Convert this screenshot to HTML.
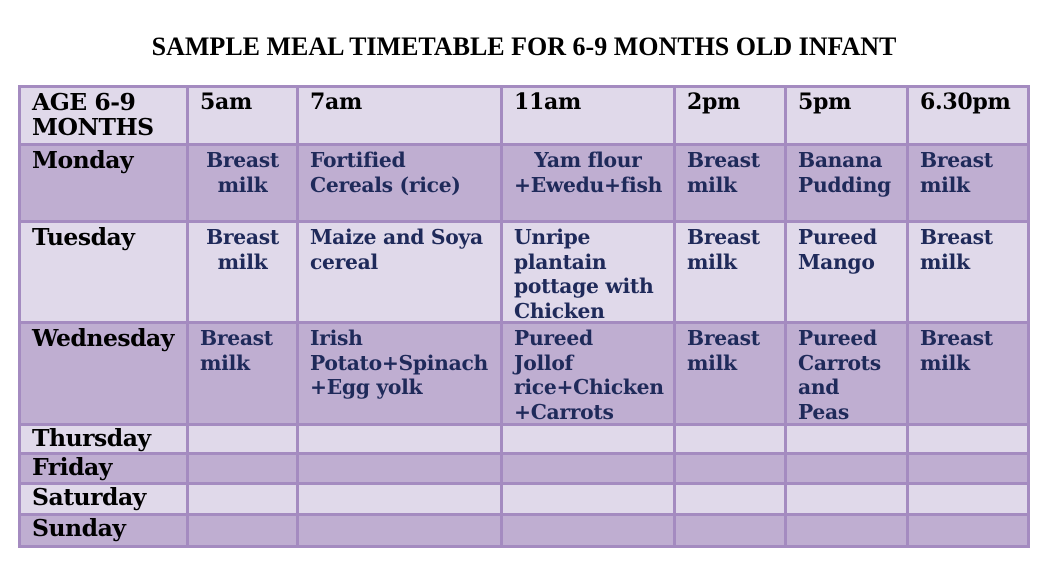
<!DOCTYPE html><html><head><style>
body{margin:0;width:1048px;height:564px;background:#fff;position:relative;font-family:"DejaVu Serif","Liberation Serif",serif;font-weight:bold;overflow:hidden}
h1{position:absolute;top:32px;left:0;width:1048px;text-align:center;margin:0;font-family:"Liberation Serif",serif;font-size:26px;font-weight:bold;color:#000}
.t{position:absolute;left:18px;top:85px;width:1012px;height:463px;background:#a48bc0}
.c{position:absolute;box-sizing:border-box;padding:2px 0 0 11px;font-size:20.3px;line-height:24.5px;color:#1f2a5a;letter-spacing:-0.3px;overflow:hidden;white-space:nowrap}
.L{background:#e0d9ea}.D{background:#bfaed1}
.h{color:#000;font-size:22px}
.h0{font-size:23.5px;letter-spacing:-0.5px}
</style></head><body>
<h1>SAMPLE MEAL TIMETABLE FOR 6-9 MONTHS OLD INFANT</h1>
<div class="t"></div>
<div id="g"></div>
<script>
var xs=[18,186,296,500,673,784,906,1030];
var ys=[85,143,220,321,423,452,482,513,548];
var data=[
["AGE 6-9<br>MONTHS","5am","7am","11am","2pm","5pm","6.30pm"],
["Monday","<div style='text-align:center;margin-left:-11px'>Breast<br>milk</div>","Fortified<br>Cereals (rice)","&nbsp;&nbsp;&nbsp;Yam flour<br>+Ewedu+fish","Breast<br>milk","Banana<br>Pudding","Breast<br>milk"],
["Tuesday","<div style='text-align:center;margin-left:-11px'>Breast<br>milk</div>","Maize and Soya<br>cereal","Unripe<br>plantain<br>pottage with<br>Chicken","Breast<br>milk","Pureed<br>Mango","Breast<br>milk"],
["Wednesday","Breast<br>milk","Irish<br>Potato+Spinach<br>+Egg yolk","Pureed<br>Jollof<br>rice+Chicken<br>+Carrots","Breast<br>milk","Pureed<br>Carrots<br>and<br>Peas","Breast<br>milk"],
["Thursday","","","","","",""],
["Friday","","","","","",""],
["Saturday","","","","","",""],
["Sunday","","","","","",""]];
var h="";
for(var r=0;r<8;r++)for(var c=0;c<7;c++){
var x=xs[c]+3,y=ys[r]+3,w=xs[c+1]-xs[c]-3-(c==6?3:0),hh=ys[r+1]-ys[r]-3-(r==7?3:0);
var cls=(r%2?"D":"L")+((r==0||c==0)?" h":"")+(c==0?" h0":"");
var pad=(r>=4)?"padding-top:0;line-height:24px;":"";
h+="<div class='c "+cls+"' style='left:"+x+"px;top:"+y+"px;width:"+w+"px;height:"+hh+"px;"+pad+"'>"+data[r][c]+"</div>";}
document.getElementById("g").innerHTML=h;
</script>
</body></html>
